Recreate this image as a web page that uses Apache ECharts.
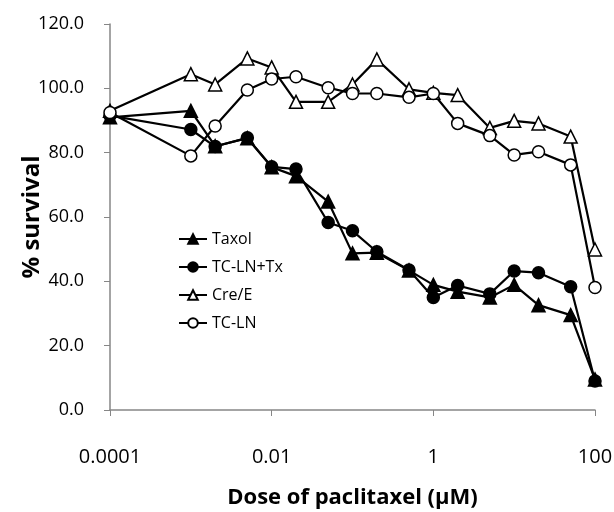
<!DOCTYPE html>
<html>
<head>
<meta charset="utf-8">
<script src="https://cdn.jsdelivr.net/npm/echarts@6/dist/echarts.min.js"></script>
<style>
  html, body { margin: 0; padding: 0; background: #fff; }
  #chart { width: 614px; height: 512px; }
</style>
</head>
<body>
<div id="chart"></div>
<script>
// dose of paclitaxel (uM)
var doses = [0.0001, 0.001, 0.002, 0.005, 0.01, 0.02, 0.05, 0.1, 0.2, 0.5, 1, 2, 5, 10, 20, 50, 100];
// % survival
var taxol   = [91, 93, 82, 84.5, 75.5, 72.7, 64.8, 48.7, 48.9, 43.4, 38.9, 36.8, 35.0, 38.9, 32.6, 29.5, 9.5];
var tclnTx  = [91.5, 87.2, 81.9, 84.6, 75.6, 74.9, 58.3, 55.7, 49.2, 43.5, 35.0, 38.7, 36.1, 43.2, 42.7, 38.3, 9.0];
var creE    = [93, 104.4, 101.2, 109.3, 106.5, 95.8, 95.8, 101.2, 109, 99.7, 98.6, 97.9, 87.7, 89.9, 89.1, 85, 49.9];
var tcln    = [92.5, 79, 88.3, 99.5, 102.9, 103.6, 100.2, 98.4, 98.4, 97.2, 98.4, 89.1, 85.3, 79.3, 80.3, 76.2, 38.1];

var seriesNames = ["Taxol", "TC-LN+Tx", "Cre/E", "TC-LN"];

var font = "'Open Sans', 'Noto Sans', sans-serif";

function pairs(vals) {
    return doses.map(function (d, i) { return [d, vals[i]]; });
}

function makeSeries(name, vals, symbol, size, filled) {
    return {
        name: name,
        type: "line",
        data: pairs(vals),
        symbol: symbol,
        symbolSize: size,
        showSymbol: true,
        animation: false,
        lineStyle: { color: "#000", width: 2.2 },
        itemStyle: {
            color: filled ? "#000" : "#fff",
            borderColor: "#000",
            borderWidth: 1.5
        }
    };
}

var chart = echarts.init(document.getElementById("chart"));
chart.setOption({
    backgroundColor: "#fff",
    animation: false,
    grid: { left: 110, right: 19, top: 24, bottom: 102, outerBoundsMode: "none", containLabel: false },
    legend: {
        orient: "vertical",
        left: 173,
        top: 226,
        itemWidth: 28,
        itemHeight: 12,
        itemGap: 12,
        textStyle: { fontFamily: font, fontSize: 16, color: "#000" },
        data: seriesNames
    },
    xAxis: {
        type: "log",
        logBase: 10,
        min: 0.0001,
        max: 100,
        interval: 2,
        name: "Dose of paclitaxel (\u03bcM)",
        nameLocation: "middle",
        nameGap: 77,
        nameMoveOverlap: false,
        nameTextStyle: { fontFamily: font, fontSize: 22, fontWeight: "bold", color: "#000" },
        axisLine: { lineStyle: { color: "#868686", width: 1.5 } },
        axisTick: { length: 6, lineStyle: { color: "#868686", width: 1 } },
        axisLabel: {
            fontFamily: font, fontSize: 20, color: "#000", margin: 37,
            formatter: function (v) {
                var e = Math.round(Math.log10(v));
                return e < 0 ? Math.pow(10, e).toFixed(-e) : String(Math.pow(10, e));
            }
        },
        splitLine: { show: false }
    },
    yAxis: {
        type: "value",
        min: 0,
        max: 120,
        interval: 20,
        name: "% survival",
        nameLocation: "middle",
        nameGap: 66,
        nameMoveOverlap: false,
        nameTextStyle: { fontFamily: font, fontSize: 24, fontWeight: "bold", color: "#000" },
        axisLine: { show: true, lineStyle: { color: "#868686", width: 1.5 } },
        axisTick: { show: true, length: 6, lineStyle: { color: "#868686", width: 1 } },
        axisLabel: {
            fontFamily: font, fontSize: 18, color: "#000", margin: 26,
            formatter: function (v) { return v.toFixed(1); }
        },
        splitLine: { show: false }
    },
    series: [
        makeSeries("Taxol", taxol, "triangle", 13, true),
        makeSeries("TC-LN+Tx", tclnTx, "circle", 12, true),
        makeSeries("Cre/E", creE, "triangle", 13, false),
        makeSeries("TC-LN", tcln, "circle", 12, false)
    ]
});
</script>
</body>
</html>
